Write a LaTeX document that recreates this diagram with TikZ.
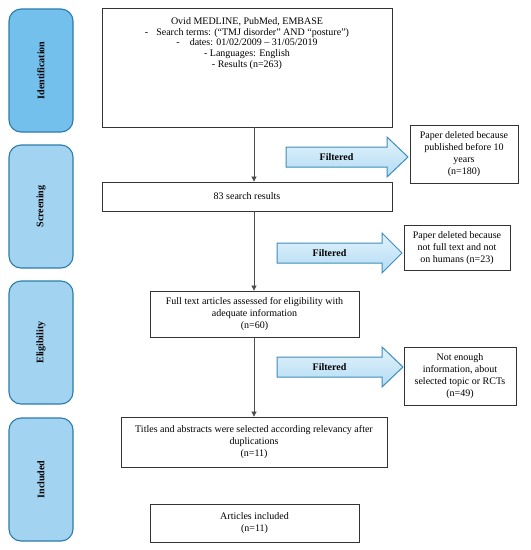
\documentclass[tikz,border=0pt]{standalone}
\usepackage{fontspec}
\setmainfont{Liberation Serif}
\usetikzlibrary{arrows.meta}
\definecolor{phaseA}{HTML}{74C0EC}
\definecolor{phaseB}{HTML}{A2D4F2}
\definecolor{phaseEdge}{HTML}{2B7BAA}
\definecolor{arrEdge}{HTML}{3D8DBA}
\definecolor{arrTop}{HTML}{E2F2FB}
\definecolor{arrBot}{HTML}{B3DCF4}
\definecolor{boxEdge}{HTML}{333333}
\begin{document}
\begin{tikzpicture}[x=1pt,y=-1pt,
  phase/.style={draw=phaseEdge, line width=1.1pt, fill=phaseB, rounded corners=12pt,
    minimum width=64pt, minimum height=123pt, inner sep=0pt,
    font=\fontsize{10}{12}\selectfont\bfseries},
  mainbox/.style={draw=boxEdge, line width=0.8pt, fill=white, inner sep=0pt, align=center,
    font=\fontsize{10}{12}\selectfont},
  plain/.style={inner sep=0pt, align=center, font=\fontsize{10}{12}\selectfont},
  flow/.style={draw=black!70, line width=0.7pt, -{Triangle[length=5pt,width=5pt]}},
  blockarrow/.style={draw=arrEdge, line width=1pt, top color=arrTop, bottom color=arrBot},
  filt/.style={inner sep=0pt, font=\fontsize{10}{12}\selectfont\bfseries}
]
\useasboundingbox (0,0) rectangle (531,550);

% phase boxes
\node[phase, fill=phaseA] (ident) at (41,70.5) {\rotatebox{90}{Identification}};
\node[phase] (screen) at (41,206.5) {\rotatebox{90}{Screening}};
\node[phase] (elig) at (41,342.5) {\rotatebox{90}{Eligibility}};
\node[phase] (incl) at (41,479.5) {\rotatebox{90}{Included}};

% main boxes
\node[mainbox, minimum width=290pt, minimum height=119pt] (box1) at (247,67.5) {};
\node[plain, font=\fontsize{10}{10.8}\selectfont] (box1t) at (247,43.5) {Ovid MEDLINE, PubMed, EMBASE\\
-\hspace{8pt}Search terms: (“TMJ disorder” AND “posture”)\\
-\hspace{10pt}dates: 01/02/2009 – 31/05/2019\\
- Languages: English\\
- Results (n=263)};
\node[mainbox, minimum width=290pt, minimum height=29pt] (box2) at (247,196.5) {83 search results};
\node[mainbox, minimum width=209pt, minimum height=46pt] (box3) at (254.5,314) {Full text articles assessed for eligibility with\\adequate information\\(n=60)};
\node[mainbox, minimum width=266pt, minimum height=50pt] (box4) at (254,442) {Titles and abstracts were selected according relevancy after\\duplications\\(n=11)};
\node[mainbox, minimum width=209pt, minimum height=38pt] (box5) at (254.5,523) {Articles included\\(n=11)};

% right boxes
\node[mainbox, minimum width=108pt, minimum height=58pt] (r1) at (464,154) {Paper deleted because\\published before 10\\years\\(n=180)};
\node[mainbox, minimum width=106pt, minimum height=45pt] (r2) at (457,248) {Paper deleted because\\not full text and not\\on humans (n=23)};
\node[mainbox, minimum width=112pt, minimum height=58pt] (r3) at (460,376) {Not enough\\information, about\\selected topic or RCTs\\(n=49)};

% vertical flow line
\coordinate (lx) at (254,0);
\draw[flow] (box1.south -| lx) -- (box2.north -| lx);
\draw[flow] (box2.south -| lx) -- (box3.north -| lx);
\draw[flow] (box3.south -| lx) -- (box4.north -| lx);

% block arrows
\path[blockarrow] (286,147) -- (387,147) -- (387,137) -- (408,157) -- (387,177) -- (387,167) -- (286,167) -- cycle;
\node[filt] (f1) at (336.5,157) {Filtered};
\path[blockarrow] (277,243) -- (382,243) -- (382,233) -- (402,253) -- (382,273) -- (382,263) -- (277,263) -- cycle;
\node[filt] (f2) at (329.5,253) {Filtered};
\path[blockarrow] (277,357) -- (382,357) -- (382,347) -- (403,367) -- (382,387) -- (382,377) -- (277,377) -- cycle;
\node[filt] (f3) at (329.5,367) {Filtered};
\end{tikzpicture}
\end{document}
